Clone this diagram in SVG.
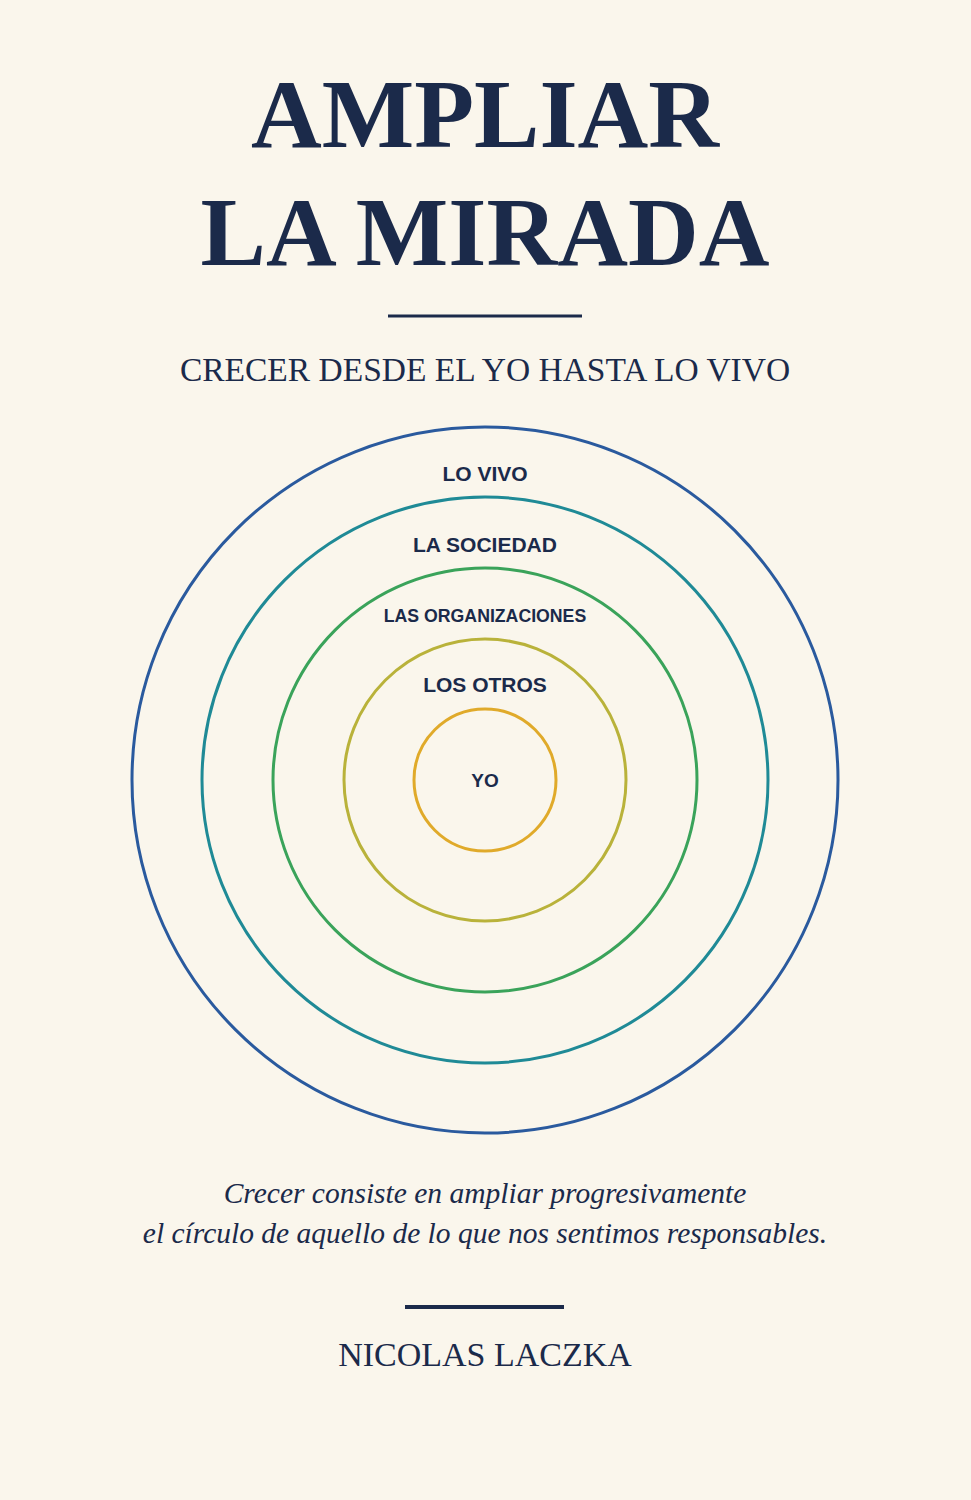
<svg xmlns="http://www.w3.org/2000/svg" width="971" height="1500" viewBox="0 0 971 1500">
<style>
.t{font-family:"Liberation Serif",serif;fill:#1b2a4a;text-anchor:middle}
.l{font-family:"Liberation Sans",Arial,sans-serif;font-weight:bold;fill:#1b2a4a;text-anchor:middle;font-size:21px}
.c{fill:none;stroke-width:3}
</style>
<rect width="971" height="1500" fill="#faf6ec"/>
<text class="t" x="485" y="147" font-size="98" font-weight="bold">AMPLIAR</text>
<text class="t" x="485" y="265" font-size="98" font-weight="bold">LA MIRADA</text>
<line x1="388" y1="316" x2="582" y2="316" stroke="#1b2a4a" stroke-width="3"/>
<text class="t" x="485" y="381" font-size="33.5">CRECER DESDE EL YO HASTA LO VIVO</text>
<g id="lovivo"><circle class="c" cx="485" cy="780" r="353" stroke="#2a5a9e"/><text class="l" x="485" y="481">LO VIVO</text></g>
<g id="sociedad"><circle class="c" cx="485" cy="780" r="283" stroke="#1f8a96"/><text class="l" x="485" y="552">LA SOCIEDAD</text></g>
<g id="organizaciones"><circle class="c" cx="485" cy="780" r="212" stroke="#3aa35a"/><text class="l" x="485" y="622" style="font-size:17.7px">LAS ORGANIZACIONES</text></g>
<g id="otros"><circle class="c" cx="485" cy="780" r="141" stroke="#b9b23a"/><text class="l" x="485" y="692">LOS OTROS</text></g>
<g id="yo"><circle class="c" cx="485" cy="780" r="71" stroke="#e0aa2a"/><text class="l" x="485" y="787" style="font-size:19px">YO</text></g>
<g id="connectors"/>
<text class="t" x="485" y="1203" font-size="29.5" font-style="italic">Crecer consiste en ampliar progresivamente</text>
<text class="t" x="485" y="1243" font-size="29.5" font-style="italic">el círculo de aquello de lo que nos sentimos responsables.</text>
<line x1="405" y1="1307" x2="564" y2="1307" stroke="#1b2a4a" stroke-width="4"/>
<text class="t" x="485" y="1366" font-size="34">NICOLAS LACZKA</text>
</svg>
